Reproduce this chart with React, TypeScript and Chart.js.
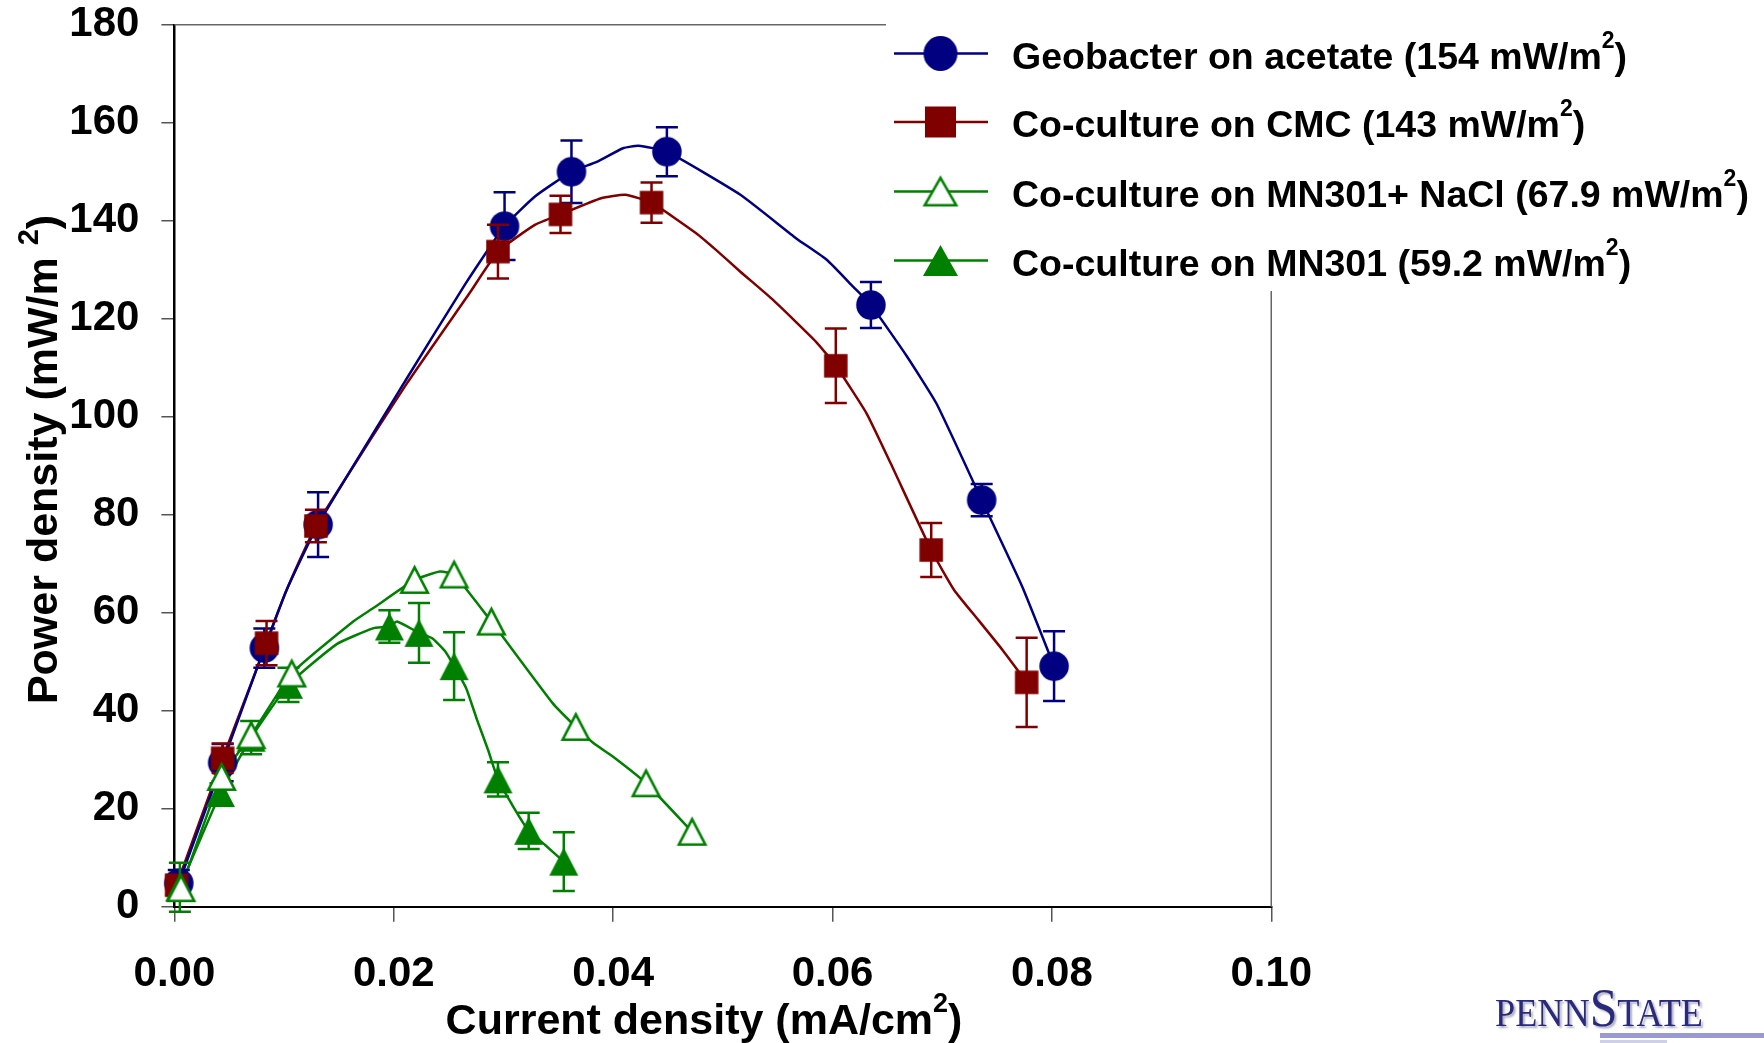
import React, { useEffect, useRef } from 'react';
import { Chart, registerables } from 'chart.js';

Chart.register(...registerables);

const CANVAS_W = 1764;
const CANVAS_H = 1043;

// ---- axis ticks & texts ----
const xTickValues = [0, 0.02, 0.04, 0.06, 0.08, 0.1];
const yTickValues = [0, 20, 40, 60, 80, 100, 120, 140, 160, 180];
const xTitleText = 'Current density (mA/cm';
const yTitleText = 'Power density (mW/m ';
const unitSup = '2';
const closeParen = ')';

const legendLabels = [
  'Geobacter on acetate (154 mW/m',
  'Co-culture on CMC (143 mW/m',
  'Co-culture on MN301+ NaCl (67.9 mW/m',
  'Co-culture on MN301 (59.2 mW/m',
];

// ---- Geobacter on acetate ----
const geoX = [0.0004, 0.0044, 0.0082, 0.0131, 0.0301, 0.0362, 0.0449, 0.0635, 0.0736, 0.0802];
const geoY = [4.8, 29.4, 52.8, 78.0, 138.9, 150.0, 154.1, 122.8, 83.0, 49.1];
const geoErr = [2.7, 3.8, 4.0, 6.6, 6.9, 6.4, 5.0, 4.7, 3.3, 7.1];
const geoCurveX = [0.0004, 0.0044, 0.0082, 0.0103, 0.0131, 0.0211, 0.0265, 0.0301, 0.0329, 0.0362, 0.0385, 0.0409, 0.0423, 0.0449, 0.0516, 0.0567, 0.0595, 0.0619, 0.0635, 0.0667, 0.0695, 0.0736, 0.0773, 0.0802];
const geoCurveY = [4.8, 29.4, 52.8, 65.0, 78.0, 107.5, 127.0, 138.9, 145.0, 150.0, 152.0, 154.8, 155.3, 154.1, 145.3, 136.4, 132.0, 126.5, 122.8, 112.6, 102.6, 83.0, 65.3, 49.1];

// ---- Co-culture on CMC ----
const cmcX = [0.0002, 0.0044, 0.0084, 0.0129, 0.0295, 0.0352, 0.0435, 0.0603, 0.069, 0.0777];
const cmcY = [4.4, 30.3, 53.8, 77.7, 133.7, 141.3, 143.7, 110.4, 72.8, 45.8];
const cmcErr = [2.0, 3.0, 4.5, 3.3, 5.5, 3.8, 4.1, 7.6, 5.5, 9.1];
const cmcCurveX = [0.0002, 0.0044, 0.0084, 0.0102, 0.0129, 0.0212, 0.0269, 0.0295, 0.0329, 0.0352, 0.0389, 0.0411, 0.0435, 0.0476, 0.0494, 0.0516, 0.0546, 0.0585, 0.0603, 0.0631, 0.0653, 0.069, 0.0711, 0.0733, 0.0755, 0.0777];
const cmcCurveY = [4.4, 30.3, 53.8, 64.5, 77.7, 106.8, 125.2, 133.7, 139.2, 141.3, 144.6, 145.3, 143.7, 137.4, 134.0, 129.6, 123.8, 115.3, 110.4, 100.7, 90.5, 72.8, 64.6, 58.5, 52.4, 45.8];

// ---- Co-culture on MN301 + NaCl ----
const naclX = [0.0006, 0.0043, 0.007, 0.0107, 0.0219, 0.0255, 0.0289, 0.0366, 0.043, 0.0472];
const naclY = [3.8, 26.5, 35.0, 47.6, 66.7, 67.8, 58.2, 36.7, 25.2, 15.3];
const naclCurveX = [0.0006, 0.0043, 0.007, 0.0107, 0.0163, 0.0181, 0.0219, 0.0242, 0.0255, 0.0289, 0.0345, 0.0366, 0.0382, 0.04, 0.043, 0.0472];
const naclCurveY = [3.8, 26.5, 35.0, 47.6, 58.2, 60.9, 66.7, 68.4, 67.8, 58.2, 41.5, 36.7, 33.4, 30.6, 25.2, 15.3];

// ---- Co-culture on MN301 ----
const mnX = [0.0005, 0.0042, 0.007, 0.0104, 0.0196, 0.0223, 0.0255, 0.0295, 0.0323, 0.0355];
const mnY = [4.0, 23.2, 34.5, 45.3, 57.2, 55.9, 49.1, 26.0, 15.5, 9.2];
const mnErr = [5.0, 2.0, 3.4, 3.5, 3.3, 6.1, 6.9, 3.5, 3.7, 6.0];
const mnCurveX = [0.0005, 0.0042, 0.007, 0.0104, 0.0148, 0.0181, 0.0196, 0.0203, 0.0223, 0.0235, 0.0247, 0.0255, 0.0266, 0.0276, 0.0286, 0.0295, 0.0309, 0.0323, 0.0338, 0.0355];
const mnCurveY = [4.0, 23.2, 34.5, 45.3, 53.6, 56.8, 57.2, 58.2, 55.9, 54.8, 52.1, 49.1, 44.6, 38.1, 32.0, 26.0, 20.4, 15.5, 12.6, 9.2];

// ---- styling ----
const NAVY = '#000080';
const MAROON = '#800000';
const GREEN = '#008000';
const SANS = "'Liberation Sans', Arial, Helvetica, sans-serif";
const SERIF = "'Liberation Serif', 'DejaVu Serif', 'Times New Roman', serif";

const PLOT_LEFT = 174.4;
const PLOT_RIGHT = 1271.25;
const PLOT_TOP = 24.75;
const PLOT_BOTTOM = 906.75;

type MarkerKind = 'circle' | 'square' | 'triOpen' | 'triFilled';

function makeMarker(kind: MarkerKind, w: number, h: number, color: string): HTMLCanvasElement {
  const cw = Math.ceil(w) + 4;
  const ch = Math.ceil(h) + 4;
  const c = document.createElement('canvas');
  c.width = cw;
  c.height = ch;
  const ctx = c.getContext('2d')!;
  const cx = cw / 2;
  const cy = ch / 2;
  ctx.fillStyle = color;
  ctx.strokeStyle = color;
  if (kind === 'circle') {
    ctx.beginPath();
    ctx.ellipse(cx, cy, w / 2, h / 2, 0, 0, Math.PI * 2);
    ctx.fill();
  } else if (kind === 'square') {
    ctx.fillRect(cx - w / 2, cy - h / 2, w, h);
  } else {
    const lw = 2.6;
    const inset = kind === 'triOpen' ? lw / 2 : 0;
    ctx.beginPath();
    ctx.moveTo(cx, cy - h / 2 + inset);
    ctx.lineTo(cx + w / 2 - inset, cy + h / 2 - inset);
    ctx.lineTo(cx - w / 2 + inset, cy + h / 2 - inset);
    ctx.closePath();
    if (kind === 'triOpen') {
      ctx.fillStyle = '#ffffff';
      ctx.fill();
      ctx.lineWidth = lw;
      ctx.lineJoin = 'miter';
      ctx.stroke();
    } else {
      ctx.fill();
    }
  }
  return c;
}

function sansFont(size: number) {
  return `bold ${size}px ${SANS}`;
}

type Part = { text: string; size: number; rise: number };

function partsWidth(ctx: CanvasRenderingContext2D, parts: Part[]) {
  let w = 0;
  for (const p of parts) {
    ctx.font = sansFont(p.size);
    w += ctx.measureText(p.text).width;
  }
  return w;
}

function drawParts(ctx: CanvasRenderingContext2D, parts: Part[], x: number, baseline: number, align: 'left' | 'center') {
  const total = partsWidth(ctx, parts);
  let cx = align === 'center' ? x - total / 2 : x;
  ctx.textAlign = 'left';
  ctx.textBaseline = 'alphabetic';
  for (const p of parts) {
    ctx.font = sansFont(p.size);
    ctx.fillText(p.text, cx, baseline - p.rise);
    cx += ctx.measureText(p.text).width;
  }
}

function toPoints(xs: number[], ys: number[]) {
  return xs.map((x, i) => ({ x, y: ys[i] }));
}

export default function App() {
  const ref = useRef<HTMLCanvasElement>(null);

  useEffect(() => {
    const canvas = ref.current;
    if (!canvas) return;

    const plotMarkers = {
      geo: makeMarker('circle', 29.5, 29.5, NAVY),
      cmc: makeMarker('square', 23.5, 23.5, MAROON),
      nacl: makeMarker('triOpen', 29, 28, GREEN),
      mn: makeMarker('triFilled', 29, 28, GREEN),
    };
    const legendMarkers = [
      makeMarker('circle', 34, 35, NAVY),
      makeMarker('square', 31, 31, MAROON),
      makeMarker('triOpen', 34, 30, GREEN),
      makeMarker('triFilled', 35, 31, GREEN),
    ];
    const legendColors = [NAVY, MAROON, GREEN, GREEN];

    const lineDs = (xs: number[], ys: number[], color: string) => ({
      data: toPoints(xs, ys),
      showLine: true,
      borderColor: color,
      backgroundColor: color,
      borderWidth: 2.5,
      pointRadius: 0,
      tension: 0.15,
      fill: false,
      order: 10,
    });
    const markerDs = (xs: number[], ys: number[], marker: HTMLCanvasElement, order: number, errs: number[] | null, color: string) => ({
      data: toPoints(xs, ys),
      showLine: false,
      pointStyle: marker,
      pointRadius: 14,
      pointHoverRadius: 14,
      clip: false,
      order,
      errorBars: errs,
      errorColor: color,
    });

    const errorBarPlugin = {
      id: 'errorBars',
      beforeDatasetDraw(chart: any, args: any) {
        const ds = chart.data.datasets[args.index];
        if (!ds.errorBars) return;
        const ctx = chart.ctx as CanvasRenderingContext2D;
        const xs = chart.scales.x;
        const ys = chart.scales.y;
        ctx.save();
        ctx.strokeStyle = ds.errorColor;
        ctx.lineWidth = 2.5;
        ds.data.forEach((pt: any, i: number) => {
          const e = ds.errorBars[i];
          if (!e) return;
          const px = xs.getPixelForValue(pt.x);
          const yTop = ys.getPixelForValue(pt.y + e);
          const yBot = ys.getPixelForValue(pt.y - e);
          ctx.beginPath();
          ctx.moveTo(px, yTop);
          ctx.lineTo(px, yBot);
          ctx.moveTo(px - 11, yTop);
          ctx.lineTo(px + 11, yTop);
          ctx.moveTo(px - 11, yBot);
          ctx.lineTo(px + 11, yBot);
          ctx.stroke();
        });
        ctx.restore();
      },
    };

    const framePlugin = {
      id: 'frame',
      beforeDatasetsDraw(chart: any) {
        const { ctx, chartArea } = chart;
        ctx.save();
        ctx.strokeStyle = '#666';
        ctx.lineWidth = 1.5;
        ctx.beginPath();
        ctx.moveTo(chartArea.left, chartArea.top);
        ctx.lineTo(chartArea.right, chartArea.top);
        ctx.lineTo(chartArea.right, chartArea.bottom);
        ctx.stroke();
        ctx.restore();
      },
    };

    const overlayPlugin = {
      id: 'overlay',
      afterDraw(chart: any) {
        const ctx = chart.ctx as CanvasRenderingContext2D;
        ctx.save();

        // legend box (covers the frame)
        ctx.fillStyle = '#ffffff';
        ctx.fillRect(886, 0, CANVAS_W - 886, 291);
        const rowY = [53.5, 122, 191.5, 260.5];
        legendLabels.forEach((label, i) => {
          const y = rowY[i];
          ctx.strokeStyle = legendColors[i];
          ctx.lineWidth = 2.5;
          ctx.beginPath();
          ctx.moveTo(894, y);
          ctx.lineTo(988, y);
          ctx.stroke();
          const m = legendMarkers[i];
          ctx.drawImage(m, 940.5 - m.width / 2, y - m.height / 2);
          ctx.fillStyle = '#000';
          drawParts(
            ctx,
            [
              { text: label, size: 37.5, rise: 0 },
              { text: unitSup, size: 23, rise: 21 },
              { text: closeParen, size: 37.5, rise: 0 },
            ],
            1012,
            y + 15,
            'left'
          );
        });

        // x title
        ctx.fillStyle = '#000';
        drawParts(
          ctx,
          [
            { text: xTitleText, size: 43, rise: 0 },
            { text: unitSup, size: 27, rise: 22 },
            { text: closeParen, size: 43, rise: 0 },
          ],
          704,
          1033.5,
          'center'
        );

        // y title (rotated)
        ctx.save();
        ctx.translate(56.5, 459.5);
        ctx.rotate(-Math.PI / 2);
        drawParts(
          ctx,
          [
            { text: yTitleText, size: 43, rise: 0 },
            { text: unitSup, size: 29, rise: 19 },
            { text: closeParen, size: 43, rise: 0 },
          ],
          0,
          0,
          'center'
        );
        ctx.restore();

        // PennState logo text
        const logoParts = [
          { t: 'PENN', s: 40 },
          { t: 'S', s: 55 },
          { t: 'TATE', s: 40 },
        ];
        let natural = 0;
        for (const p of logoParts) {
          ctx.font = `${p.s}px ${SERIF}`;
          natural += ctx.measureText(p.t).width;
        }
        const sx = 208 / natural;
        ctx.save();
        ctx.translate(1495, 1025.5);
        ctx.scale(sx, 1);
        ctx.shadowColor = 'rgba(110,110,140,0.55)';
        ctx.shadowOffsetX = 2;
        ctx.shadowOffsetY = 2;
        ctx.shadowBlur = 2;
        ctx.fillStyle = '#2a2a7c';
        ctx.textAlign = 'left';
        ctx.textBaseline = 'alphabetic';
        let lx = 0;
        for (const p of logoParts) {
          ctx.font = `${p.s}px ${SERIF}`;
          ctx.fillText(p.t, lx, 0);
          lx += ctx.measureText(p.t).width;
        }
        ctx.restore();
        ctx.fillStyle = '#9a9ad0';
        ctx.fillRect(1600, 1033, CANVAS_W - 1600, 5);
        ctx.fillStyle = '#cfcfe8';
        ctx.fillRect(1600, 1040, 67, 3);

        ctx.restore();
      },
    };

    const chart = new Chart(canvas, {
      type: 'scatter',
      data: {
        datasets: [
          lineDs(geoCurveX, geoCurveY, NAVY),
          lineDs(cmcCurveX, cmcCurveY, MAROON),
          lineDs(naclCurveX, naclCurveY, GREEN),
          lineDs(mnCurveX, mnCurveY, GREEN),
          markerDs(geoX, geoY, plotMarkers.geo, 4, geoErr, NAVY),
          markerDs(cmcX, cmcY, plotMarkers.cmc, 3, cmcErr, MAROON),
          markerDs(mnX, mnY, plotMarkers.mn, 2, mnErr, GREEN),
          markerDs(naclX, naclY, plotMarkers.nacl, 1, null, GREEN),
        ] as any,
      },
      options: {
        responsive: false,
        devicePixelRatio: 1,
        animation: false,
        events: [],
        layout: {
          padding: {
            left: 0,
            top: PLOT_TOP,
            right: CANVAS_W - PLOT_RIGHT,
            bottom: 0,
          },
        },
        plugins: {
          legend: { display: false },
          tooltip: { enabled: false },
          title: { display: false },
        },
        scales: {
          x: {
            type: 'linear',
            position: 'bottom',
            min: 0,
            max: 0.1,
            afterBuildTicks: (s: any) => {
              s.ticks = xTickValues.map((v) => ({ value: v }));
            },
            afterFit: (s: any) => {
              s.height = CANVAS_H - PLOT_BOTTOM;
            },
            grid: {
              display: true,
              drawOnChartArea: false,
              drawTicks: true,
              tickLength: 15,
              tickColor: '#555',
              tickWidth: 1.5,
              lineWidth: 1.5,
              color: '#555',
            },
            border: { display: true, color: '#000', width: 2 },
            ticks: {
              color: '#000',
              padding: 27,
              maxRotation: 0,
              minRotation: 0,
              autoSkip: false,
              font: { family: SANS, size: 42, weight: 'bold', lineHeight: 1.2 },
              callback: (v: any) => Number(v).toFixed(2),
            },
          },
          y: {
            type: 'linear',
            position: 'left',
            min: 0,
            max: 180,
            afterBuildTicks: (s: any) => {
              s.ticks = yTickValues.map((v) => ({ value: v }));
            },
            afterFit: (s: any) => {
              s.width = PLOT_LEFT;
            },
            grid: {
              display: true,
              drawOnChartArea: false,
              drawTicks: true,
              tickLength: 13,
              tickColor: '#555',
              tickWidth: 1.5,
              lineWidth: 1.5,
              color: '#555',
            },
            border: { display: true, color: '#000', width: 2.5 },
            ticks: {
              color: '#000',
              padding: 22,
              font: { family: SANS, size: 42, weight: 'bold', lineHeight: 0.1 },
              callback: (v: any) => String(v),
            },
          },
        },
      } as any,
      plugins: [errorBarPlugin, framePlugin, overlayPlugin],
    });

    return () => {
      chart.destroy();
    };
  }, []);

  return (
    <div
      style={{
        position: 'absolute',
        left: 0,
        top: 0,
        width: CANVAS_W,
        height: CANVAS_H,
        background: '#ffffff',
      }}
    >
      <canvas
        ref={ref}
        width={CANVAS_W}
        height={CANVAS_H}
        style={{ display: 'block', width: CANVAS_W, height: CANVAS_H }}
      />
    </div>
  );
}
